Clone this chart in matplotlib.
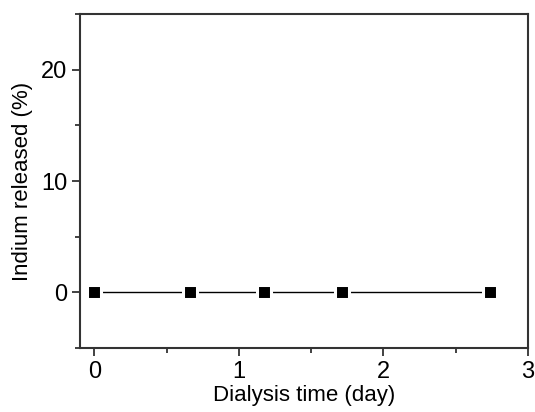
import matplotlib
matplotlib.use('Agg')
import matplotlib.pyplot as plt
from matplotlib.ticker import MultipleLocator

# data
days = [0, 0.66, 1.17, 1.71, 2.74]
released = [0, 0, 0, 0, 0]

plt.rcParams['font.family'] = ['Liberation Sans', 'DejaVu Sans']

fig = plt.figure(figsize=(5.35, 4.12), dpi=100)
ax = fig.add_axes([80/535, 1-348/412, 448/535, 334/412])

ax.plot(days, released, color='black', linewidth=1.0,
        marker='s', markersize=10, markerfacecolor='black',
        markeredgecolor='white', markeredgewidth=2.2)

ax.set_xlim(-0.1, 3)
ax.set_ylim(-5, 25)
ax.xaxis.set_major_locator(MultipleLocator(1))
ax.xaxis.set_minor_locator(MultipleLocator(0.5))
ax.yaxis.set_major_locator(MultipleLocator(10))
ax.yaxis.set_minor_locator(MultipleLocator(5))

for s in ax.spines.values():
    s.set_linewidth(1.5)
    s.set_color('#333333')
ax.tick_params(which='major', direction='out', length=6, width=1.3,
               labelsize=17, color='#333333', pad=3)
ax.tick_params(which='minor', direction='out', length=3.5, width=1.3,
               color='#333333')
ax.tick_params(top=False, right=False, which='both')

ax.set_xlabel('Dialysis time (day)', fontsize=16, labelpad=2)
ax.set_ylabel('Indium released (%)', fontsize=16, labelpad=6)

fig.savefig('out.png', dpi=100)
